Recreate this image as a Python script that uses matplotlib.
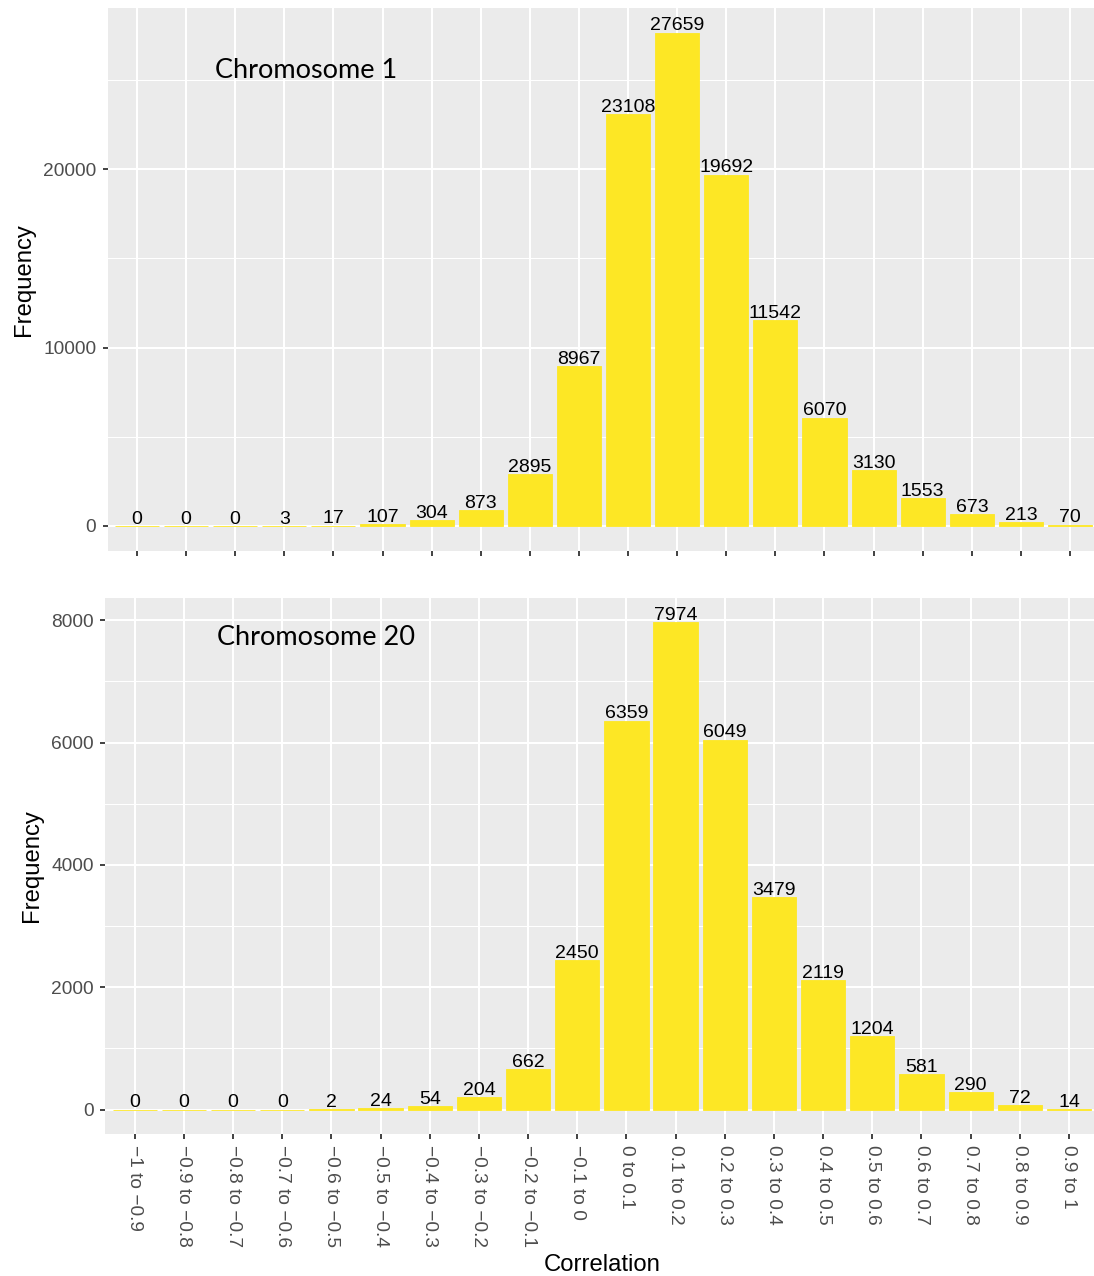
import matplotlib

matplotlib.use("Agg")

import matplotlib.pyplot as plt
from matplotlib.ticker import MultipleLocator
import numpy as np

CATEGORIES = [
    "\u22121 to \u22120.9", "\u22120.9 to \u22120.8", "\u22120.8 to \u22120.7",
    "\u22120.7 to \u22120.6", "\u22120.6 to \u22120.5", "\u22120.5 to \u22120.4",
    "\u22120.4 to \u22120.3", "\u22120.3 to \u22120.2", "\u22120.2 to \u22120.1",
    "\u22120.1 to 0", "0 to 0.1", "0.1 to 0.2", "0.2 to 0.3", "0.3 to 0.4",
    "0.4 to 0.5", "0.5 to 0.6", "0.6 to 0.7", "0.7 to 0.8", "0.8 to 0.9",
    "0.9 to 1",
]
CHR1_COUNTS = [0, 0, 0, 3, 17, 107, 304, 873, 2895, 8967, 23108, 27659,
               19692, 11542, 6070, 3130, 1553, 673, 213, 70]
CHR20_COUNTS = [0, 0, 0, 0, 2, 24, 54, 204, 662, 2450, 6359, 7974,
                6049, 3479, 2119, 1204, 581, 290, 72, 14]
CHR1_YTICKS = [0, 10000, 20000]
CHR20_YTICKS = [0, 2000, 4000, 6000, 8000]

BAR_COLOR = "#FDE725"
PANEL_BG = "#EBEBEB"
W, H = 1094, 1276

plt.rcParams["font.family"] = ["Liberation Sans", "DejaVu Sans"]


def _style_panel(ax, counts, yticks, minor_step, title):
    x = np.arange(1, len(counts) + 1)
    ax.set_facecolor(PANEL_BG)
    # thin edge so zero-height bars still show as a line, like ggplot
    ax.bar(x, counts, width=0.9, color=BAR_COLOR, edgecolor=BAR_COLOR,
           linewidth=0.6, zorder=3)
    for xi, c in zip(x, counts):
        ax.annotate(str(c), (xi, c), xytext=(0, 1.6), textcoords="offset points",
                    ha="center", va="baseline", fontsize=14, color="black", zorder=4)

    top = max(counts)
    ax.set_ylim(-0.05 * top, 1.05 * top)
    ax.set_xlim(0.4, len(counts) + 0.6)
    ax.set_yticks(yticks)
    ax.yaxis.set_minor_locator(MultipleLocator(minor_step))
    ax.set_xticks(x)

    ax.grid(which="major", color="white", linewidth=1.5, zorder=0)
    ax.grid(which="minor", axis="y", color="white", linewidth=0.75, zorder=0)
    ax.set_axisbelow(True)
    for side in ax.spines.values():
        side.set_visible(False)

    ax.tick_params(which="major", length=3.6, width=1.3, color="#333333",
                   labelcolor="#4D4D4D", labelsize=13.8, pad=4.5)
    ax.tick_params(which="minor", length=0)
    ax.set_ylabel("Frequency", fontsize=17.2, labelpad=6)
    ax.text(0.0, 0.0, title, transform=ax.transAxes, fontsize=19.5,
            family=["Lato", "DejaVu Sans"], va="baseline", ha="left")


fig = plt.figure(figsize=(W / 100, H / 100), dpi=100)

ax1 = fig.add_axes([107.5 / W, 1 - 550.5 / H, 992 / W, 542.5 / H])
_style_panel(ax1, CHR1_COUNTS, CHR1_YTICKS, 5000, "Chromosome 1")
ax1.texts[-1].set_position(((215 - 107.5) / 992, (550.5 - 78) / 542.5))
ax1.set_xticklabels([])

ax2 = fig.add_axes([105.2 / W, 1 - 1134 / H, 993.3 / W, 536.5 / H])
_style_panel(ax2, CHR20_COUNTS, CHR20_YTICKS, 1000, "Chromosome 20")
ax2.texts[-1].set_position(((217 - 105.2) / 993.3, (1134 - 645) / 536.5))
ax2.set_xticklabels(CATEGORIES, rotation=-90, ha="center", va="top")
ax2.set_xlabel("Correlation", fontsize=17.2, labelpad=5)

fig.savefig("out.png", dpi=100)
